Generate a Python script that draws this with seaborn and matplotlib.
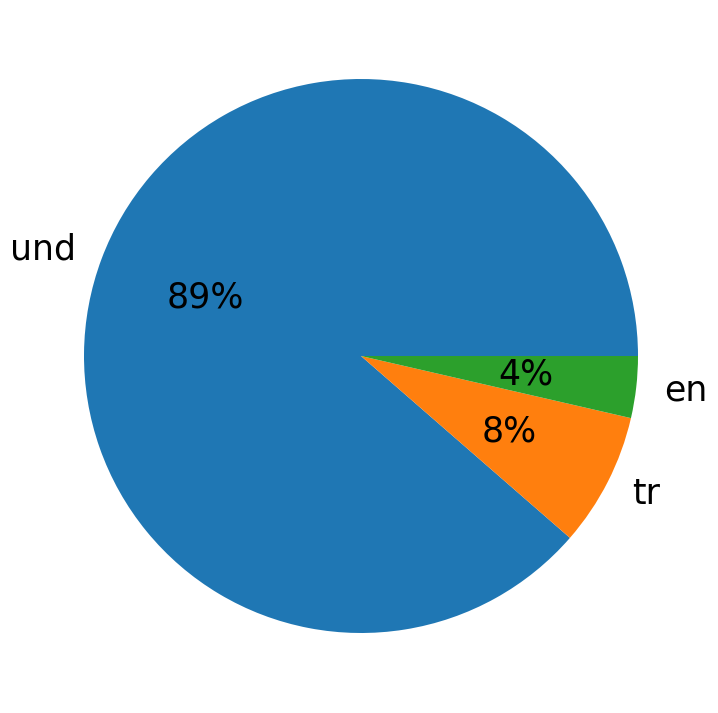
import matplotlib
matplotlib.use("Agg")
import matplotlib.pyplot as plt
import seaborn as sns

labels = ["und", "tr", "en"]
values = [88.6, 7.8, 3.6]

sns.set_theme(style="white")
plt.rcParams['font.family'] = ['DejaVu Sans']
colors = sns.color_palette("tab10")[:3]

W, H = 718, 713
fig = plt.figure(figsize=(W / 100, H / 100), dpi=100)
R = 277
cx, cy = 361, H - 356
ax = fig.add_axes([(cx - 1.25 * R) / W, (cy - 1.25 * R) / H, 2.5 * R / W, 2.5 * R / H])
ax.pie(values, labels=labels, colors=colors, autopct='%.0f%%',
       wedgeprops={'linewidth': 0, 'edgecolor': 'none'},
       textprops={'fontsize': 25, 'color': 'black'})
fig.savefig("out.png", dpi=100)
